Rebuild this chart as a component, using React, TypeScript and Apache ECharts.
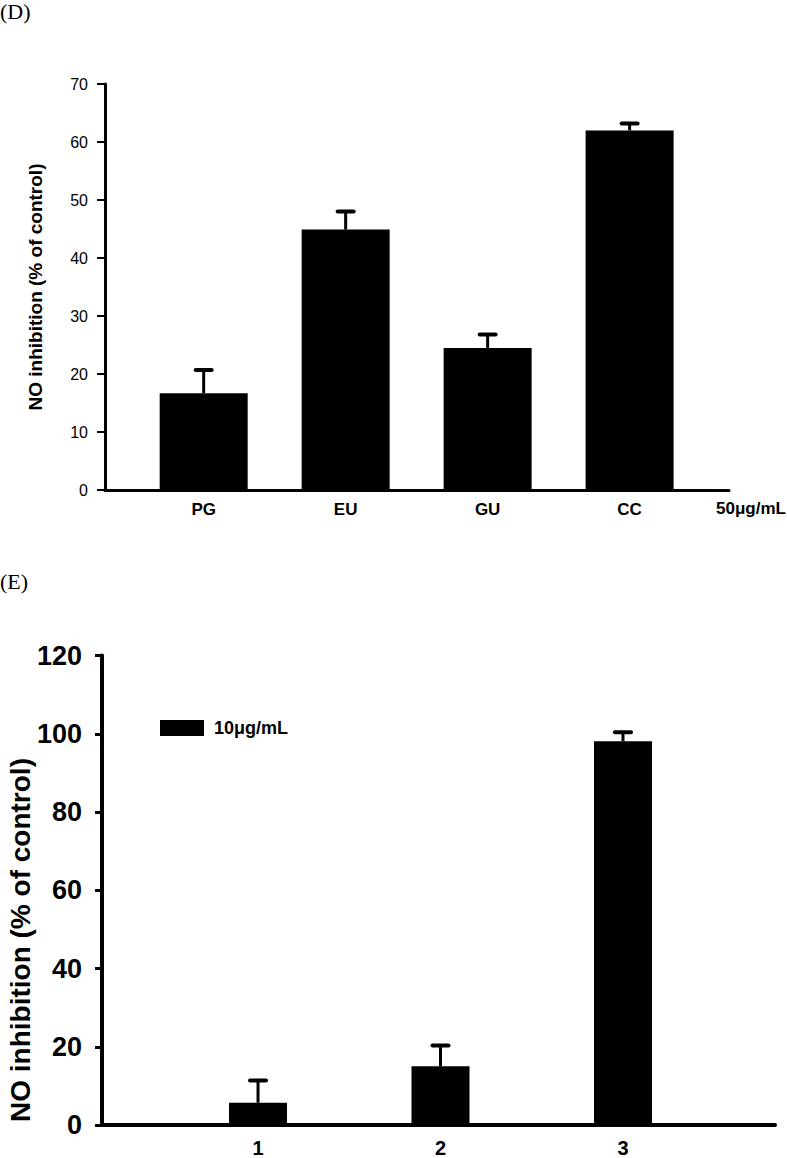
import React, { useEffect, useRef } from "react";
import * as echarts from "echarts";

// Panel D
const catsD = ["PG", "EU", "GU", "CC"];
const posD = [1, 2, 3, 4];
const valuesD = [16.7, 44.9, 24.5, 62.0];
const errTopD = [20.7, 48.0, 26.8, 63.2];
const ticksD = { min: 0, max: 70, interval: 10 };
const unitD = "50μg/mL";

// Panel E
const catsE = ["1", "2", "3"];
const posE = [1, 2, 3];
const valuesE = [5.7, 15.0, 98.1];
const errTopE = [11.4, 20.3, 100.4];
const ticksE = { min: 0, max: 120, interval: 20 };
const seriesNameE = "10μg/mL";

const yTitle = "NO inhibition (% of control)";
const FONT = "Liberation Sans, Arial, sans-serif";

function errorRender(capHalf: number, lw: number) {
  return (params: any, api: any) => {
    const x = api.value(0);
    const v = api.value(1);
    const e = api.value(2);
    const base = api.coord([x, v]);
    const top = api.coord([x, e]);
    return {
      type: "group",
      children: [
        {
          type: "line",
          shape: { x1: base[0], y1: base[1], x2: top[0], y2: top[1] },
          style: { stroke: "#000", lineWidth: lw },
        },
        {
          type: "line",
          shape: { x1: top[0] - capHalf, y1: top[1], x2: top[0] + capHalf, y2: top[1] },
          style: { stroke: "#000", lineWidth: lw + 1, lineCap: "round" },
        },
      ],
    };
  };
}

export default function App() {
  const ref = useRef<HTMLDivElement>(null);
  useEffect(() => {
    document.body.style.margin = "0";
    const chart = echarts.init(ref.current!, null, { renderer: "svg" });
    const option: any = {
      animation: false,
      backgroundColor: "#fff",
      graphic: [
        {
          type: "text",
          left: 0,
          top: 0,
          style: { text: "(D)", font: "22px 'Liberation Serif', 'Times New Roman', serif", fill: "#000" },
        },
        {
          type: "text",
          left: 0,
          top: 570,
          style: { text: "(E)", font: "22px 'Liberation Serif', 'Times New Roman', serif", fill: "#000" },
        },
        {
          type: "text",
          left: 716,
          top: 500,
          style: { text: unitD, font: `bold 17px ${FONT}`, fill: "#000" },
        },
        {
          type: "text",
          x: 20,
          y: 940,
          rotation: Math.PI / 2,
          style: {
            text: yTitle,
            font: `bold 28px ${FONT}`,
            fill: "#000",
            align: "center",
            verticalAlign: "middle",
          },
        },
      ],
      legend: {
        data: [seriesNameE],
        left: 155,
        top: 714,
        itemWidth: 44,
        itemHeight: 16,
        icon: "rect",
        textStyle: { fontFamily: FONT, fontWeight: "bold", fontSize: 18, color: "#000", padding: [0, 0, 0, 5] },
      },
      grid: [
        { left: 105, right: 58, top: 84, bottom: 668 },
        { left: 102, right: 12, top: 655.5, bottom: 29.5 },
      ],
      xAxis: [
        {
          gridIndex: 0,
          type: "value",
          min: 0.305,
          max: 4.7,
          splitLine: { show: false },
          axisLine: { show: true, lineStyle: { color: "#000", width: 3 } },
          axisTick: { show: false },
          axisLabel: {
            customValues: posD,
            formatter: (v: number) => catsD[Math.round(v) - 1] ?? "",
            margin: 11,
            color: "#000",
            fontFamily: FONT,
            fontWeight: "bold",
            fontSize: 17,
          },
        },
        {
          gridIndex: 1,
          type: "value",
          min: 0.145,
          max: 3.833,
          splitLine: { show: false },
          axisLine: { show: true, lineStyle: { color: "#000", width: 4 } },
          axisTick: { show: false },
          axisLabel: {
            customValues: posE,
            formatter: (v: number) => catsE[Math.round(v) - 1] ?? "",
            margin: 13,
            color: "#000",
            fontFamily: FONT,
            fontWeight: "bold",
            fontSize: 20,
          },
        },
      ],
      yAxis: [
        {
          gridIndex: 0,
          type: "value",
          ...ticksD,
          splitLine: { show: false },
          axisLine: { show: true, lineStyle: { color: "#000", width: 3 } },
          axisTick: { show: true, length: 8, lineStyle: { color: "#000", width: 2 } },
          axisLabel: { margin: 17, color: "#000", fontFamily: FONT, fontSize: 16 },
          name: yTitle,
          nameLocation: "middle",
          nameGap: 60,
          nameTextStyle: { color: "#000", fontFamily: FONT, fontWeight: "bold", fontSize: 19 },
        },
        {
          gridIndex: 1,
          type: "value",
          ...ticksE,
          splitLine: { show: false },
          axisLine: { show: true, lineStyle: { color: "#000", width: 4 } },
          axisTick: { show: true, length: 7, lineStyle: { color: "#000", width: 3 } },
          axisLabel: { margin: 20, color: "#000", fontFamily: FONT, fontWeight: "bold", fontSize: 27 },
        },
      ],
      series: [
        {
          name: unitD,
          type: "bar",
          xAxisIndex: 0,
          yAxisIndex: 0,
          barWidth: 88,
          itemStyle: { color: "#000" },
          data: posD.map((p, i) => [p, valuesD[i]]),
          z: 3,
        },
        {
          type: "custom",
          xAxisIndex: 0,
          yAxisIndex: 0,
          renderItem: errorRender(8, 3),
          data: posD.map((p, i) => [p, valuesD[i], errTopD[i]]),
          z: 2,
        },
        {
          name: seriesNameE,
          type: "bar",
          xAxisIndex: 1,
          yAxisIndex: 1,
          barWidth: 58,
          itemStyle: { color: "#000" },
          data: posE.map((p, i) => [p, valuesE[i]]),
          z: 3,
        },
        {
          type: "custom",
          xAxisIndex: 1,
          yAxisIndex: 1,
          renderItem: errorRender(8, 3),
          data: posE.map((p, i) => [p, valuesE[i], errTopE[i]]),
          z: 2,
        },
      ],
    };
    chart.setOption(option);
    return () => chart.dispose();
  }, []);
  return <div ref={ref} style={{ width: 787, height: 1158 }} />;
}
